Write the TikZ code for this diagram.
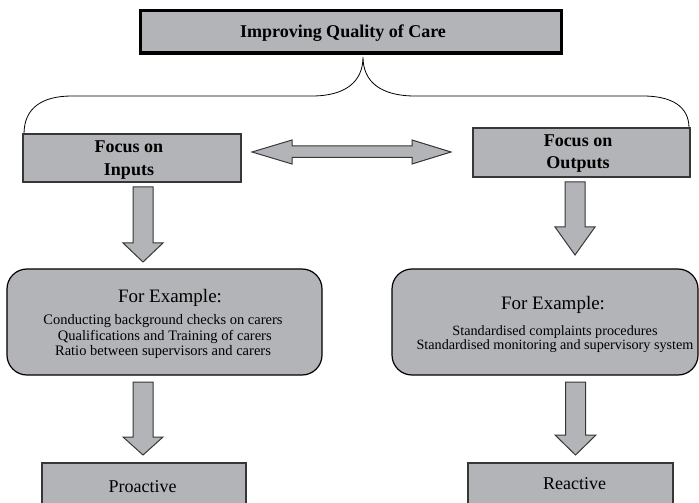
\documentclass[tikz,border=0pt]{standalone}
\usepackage{fontspec}
\setmainfont{Liberation Serif}
\definecolor{boxgray}{RGB}{178,180,183}
\definecolor{edgegray}{RGB}{55,55,55}
\newcommand\blockdown[6]{% cx, top, base, tip, halfshaft, halfhead
  \draw[blockarrow] (#1-#5,#2) -- (#1+#5,#2) -- (#1+#5,#3) -- (#1+#6,#3) -- (#1,#4)
    -- (#1-#6,#3) -- (#1-#5,#3) -- cycle;}
\begin{document}
\begin{tikzpicture}[x=1bp,y=-1bp,
  graybox/.style={draw=edgegray, line width=1.2bp, fill=boxgray, inner sep=0pt, outer sep=0pt},
  titlebox/.style={draw=black, line width=3.5bp, fill=boxgray, inner sep=0pt, outer sep=0pt},
  roundbox/.style={draw=black, line width=1.2bp, fill=boxgray, rounded corners=20bp, inner sep=0pt, outer sep=0pt},
  blockarrow/.style={draw=edgegray, line width=1bp, fill=boxgray, line join=miter},
  brace/.style={draw=black, line width=0.8bp},
  boldtxt/.style={font=\fontsize{18bp}{23bp}\selectfont\bfseries, align=center, inner sep=0pt},
  headtxt/.style={font=\fontsize{19bp}{22bp}\selectfont, align=center, inner sep=0pt},
  listtxt/.style={font=\fontsize{14.5bp}{15.5bp}\selectfont, align=center, inner sep=0pt},
  bigtxt/.style={font=\fontsize{18bp}{22bp}\selectfont, inner sep=0pt}
]
\useasboundingbox (0,0) rectangle (699,503);
\clip (0,0) rectangle (699,503);

% brace
\coordinate (bl) at (24,134);
\coordinate (br) at (689,128);
\coordinate (tip) at (363,57);
\draw[brace] (bl) .. controls (24,108) and (42,96) .. (72,96) -- (312,96)
  .. controls (345,96) and (363,82) .. (tip)
  .. controls (363,82) and (381,96) .. (415,96) -- (643,96)
  .. controls (671,96) and (689,106) .. (br);

% boxes
\node[titlebox, minimum width=420.5bp, minimum height=42.5bp] (top) at (351,32) {};
\node[boldtxt] (toptxt) at (343,33) {Improving Quality of Care};

\node[graybox, minimum width=218bp, minimum height=48bp] (inp) at (132,158) {};
\node[boldtxt] (inptxt) at (129,160) {Focus on\\Inputs};

\node[graybox, minimum width=217bp, minimum height=49bp] (outp) at (581.5,152.5) {};
\node[boldtxt, font=\fontsize{18bp}{22bp}\selectfont\bfseries] (outptxt) at (578,154) {Focus on\\Outputs};

\node[roundbox, minimum width=315bp, minimum height=106bp] (ex1) at (164.5,322) {};
\node[headtxt] (ex1h) at (170,298) {For Example:};
\node[listtxt] (ex1b) at (163,337) {Conducting background checks on carers\\
  \ Qualifications and Training of carers\\Ratio between supervisors and carers};

\node[roundbox, minimum width=306bp, minimum height=106bp] (ex2) at (545,322) {};
\node[headtxt] (ex2h) at (553,305) {For Example:};
\node[listtxt, font=\fontsize{14.2bp}{14bp}\selectfont] (ex2b) at (555,339) {Standardised complaints procedures\\
  Standardised monitoring and supervisory system};

\node[graybox, minimum width=204bp, minimum height=60bp] (pro) at (144,493) {};
\node[bigtxt] (protxt) at (142.5,487) {Proactive};

\node[graybox, minimum width=205bp, minimum height=60bp] (rea) at (570.5,493) {};
\node[bigtxt] (reatxt) at (574.5,484) {Reactive};

% double arrow between inputs and outputs
\draw[blockarrow] (252,152) -- (292,140) -- (292,146) -- (412,146) -- (412,140)
  -- (451,152) -- (412,164) -- (412,157.5) -- (292,157.5) -- (292,164) -- cycle;

% down arrows
\blockdown{143}{187}{243}{262}{10}{20}
\blockdown{575}{182}{227}{255}{10}{20}
\blockdown{143}{382}{437}{455}{10}{20}
\blockdown{575.5}{382}{435}{455}{10}{20.5}
\end{tikzpicture}
\end{document}
